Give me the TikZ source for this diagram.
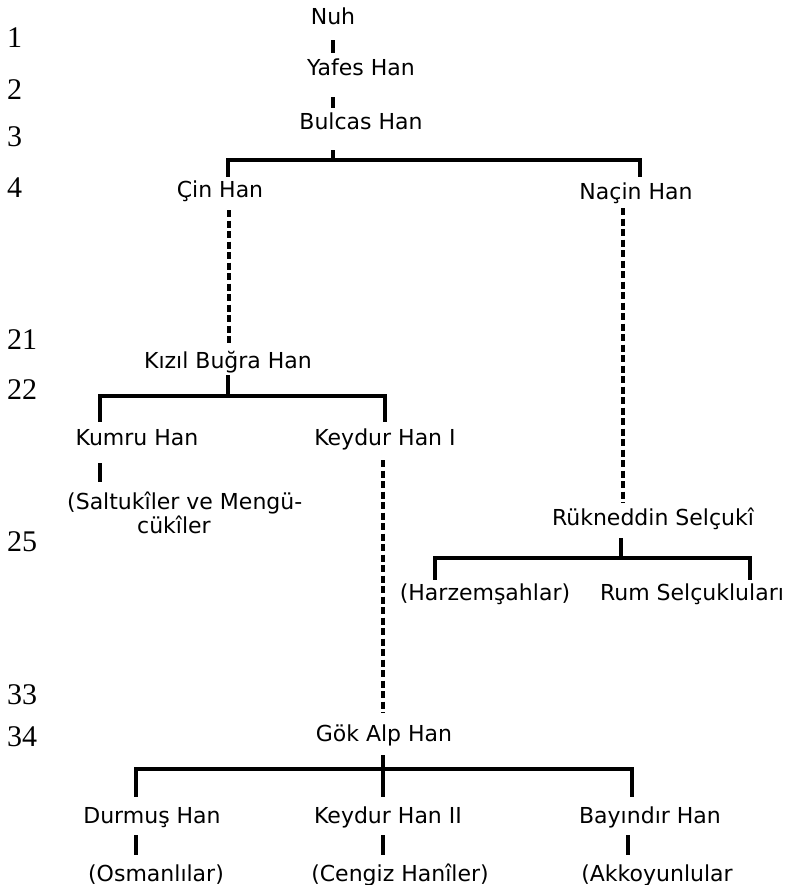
\documentclass[tikz,border=0pt]{standalone}
\usepackage{fontspec}
\newfontfamily\hanfont{DejaVu Sans}
\newfontfamily\numfont{Liberation Serif}
\usetikzlibrary{calc}
\begin{document}
\begin{tikzpicture}[
        x=1pt, y=-1pt, % y asagi dogru
        han/.style = {inner sep=0pt, text height=19pt, text depth=3pt, font=\hanfont\fontsize{22}{24}\selectfont},
        gen/.style = {anchor=west, inner sep=0pt, font=\numfont\fontsize{30}{32}\selectfont}, % kusak numaralari
        solidlink/.style = {line width=3.2pt, line join=miter},
        dashlink/.style = {line width=3.2pt, dash pattern=on 7pt off 3.5pt},
    ]
    \useasboundingbox (0,0) rectangle (792,885);

    % kusaklar
    \foreach \g/\y in {1/38, 2/90, 3/137, 4/188, 21/340, 22/390, 25/542, 33/695, 34/737}
        \node[gen] (g\g) at (7,\y) {\g};

    % hanlar
    \node[han] (nuh) at (333,17) {Nuh};
    \node[han] (yafes) at (361,68) {Yafes Han};
    \node[han] (bulcas) at (361,122) {Bulcas Han};
    \node[han] (cin) at (220,190) {Çin Han};
    \node[han] (nacin) at (636,192) {Naçin Han};
    \node[han] (kizil) at (228,360) {Kızıl Buğra Han};
    \node[han] (kumru) at (137,437) {Kumru Han};
    \node[han] (keydurI) at (385,437) {Keydur Han I};
    \node[inner sep=0pt, anchor=north west, align=left, font=\hanfont\fontsize{22}{24}\selectfont]
        (saltuk) at (67,492) {(Saltukîler ve Mengü-\\\hspace*{70pt}cükîler};
    \node[han] (rukn) at (653,517) {Rükneddin Selçukî};
    \node[han] (harzem) at (485,592) {(Harzemşahlar)};
    \node[han] (rum) at (692,592) {Rum Selçukluları};
    \node[han] (gokalp) at (384,733) {Gök Alp Han};
    \node[han] (durmus) at (152,815) {Durmuş Han};
    \node[han] (keydurII) at (388,815) {Keydur Han II};
    \node[han] (bayindir) at (650,815) {Bayındır Han};
    \node[han] (osman) at (156,873) {(Osmanlılar)};
    \node[han] (cengiz) at (400,873) {(Cengiz Hanîler)};
    \node[han] (akkoyun) at (657,873) {(Akkoyunlular};

    % dallanma noktalari
    \coordinate (j1) at (333,160); \coordinate (j1l) at (228,160); \coordinate (j1r) at (640,160);
    \coordinate (j3) at (228,396); \coordinate (j3l) at (100,396); \coordinate (j3r) at (385,396);
    \coordinate (j5) at (621,558); \coordinate (j5l) at (435,558); \coordinate (j5r) at (750,558);
    \coordinate (j6) at (383,769); \coordinate (j6l) at (136,769); \coordinate (j6r) at (632,769);

    \draw[solidlink] ($(nuh.south)+(0,12)$) -- ($(yafes.north -| nuh)+(0,-4)$);
    \draw[solidlink] ($(yafes.south -| nuh)+(0,18)$) -- ($(bulcas.north -| nuh)+(0,-3)$);
    \draw[solidlink] ($(bulcas.south -| j1)+(0,17)$) -- (j1);
    \draw[solidlink] ($(cin.north -| j1l)+(0,-2)$) -- (j1l) -- (j1r) -- ($(nacin.north -| j1r)+(0,-4)$);
    \draw[dashlink] ($(cin.south)+(9,9)$) -- ($(kizil.north)+(1,-4)$);
    \draw[dashlink] ($(nacin.south)+(-13,5)$) -- ($(rukn.north -| nacin.south)+(-13,-3)$);

    \draw[solidlink] ($(kizil.south)+(0,4)$) -- (j3);
    \draw[solidlink] ($(kumru.north -| j3l)+(0,-4)$) -- (j3l) -- (j3r) -- ($(keydurI.north -| j3r)+(0,-4)$);
    \draw[solidlink] ($(kumru.south -| j3l)+(0,15)$) -- ($(saltuk.north west)+(33,-10)$);
    \draw[dashlink] ($(keydurI.south)+(-2,12)$) -- ($(gokalp.north)+(-1,-9)$);

    \draw[solidlink] ($(rukn.south -| j5)+(0,10)$) -- (j5);
    \draw[solidlink] ($(harzem.north -| j5l)+(0,-1)$) -- (j5l) -- (j5r) -- ($(rum.north -| j5r)+(0,-1)$);

    \draw[solidlink] ($(gokalp.south -| j6)+(0,11)$) -- ($(keydurII.north -| j6)+(0,-7)$);
    \draw[solidlink] ($(durmus.north -| j6l)+(0,-7)$) -- (j6l) -- (j6r) -- ($(bayindir.north -| j6r)+(0,-7)$);
    \draw[solidlink] ($(durmus.south -| j6l)+(0,9)$) -- ($(osman.north -| j6l)+(0,-7)$);
    \draw[solidlink] ($(keydurII.south -| j6)+(0,9)$) -- ($(cengiz.north -| j6)+(0,-7)$);
    \draw[solidlink] ($(bayindir.south)+(-22,9)$) -- ($(akkoyun.north -| bayindir.south)+(-22,-7)$);
\end{tikzpicture}
\end{document}
